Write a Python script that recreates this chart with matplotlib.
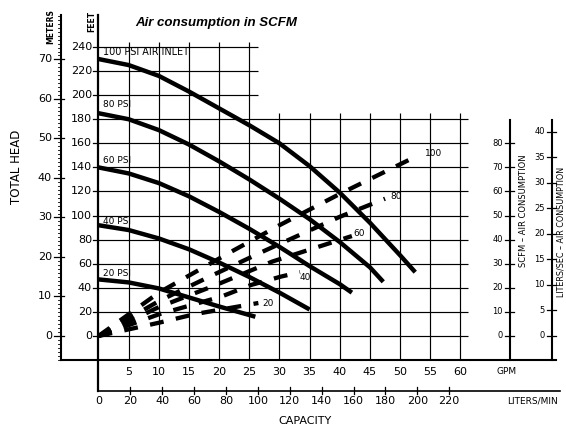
import matplotlib
matplotlib.use('Agg')
import matplotlib.pyplot as plt

plt.rcParams['font.family'] = ['DejaVu Sans']
plt.rcParams['lines.scale_dashes'] = False

# ---------------- data ----------------
gpm_ticks = [5, 10, 15, 20, 25, 30, 35, 40, 45, 50, 55, 60]
feet_ticks = [0, 20, 40, 60, 80, 100, 120, 140, 160, 180, 200, 220, 240]
meter_ticks = [0, 10, 20, 30, 40, 50, 60, 70]
lpm_ticks = [0, 20, 40, 60, 80, 100, 120, 140, 160, 180, 200, 220]
scfm_ticks = [0, 10, 20, 30, 40, 50, 60, 70, 80]
lps_ticks = [0, 5, 10, 15, 20, 25, 30, 35, 40]

psi_names = ["100 PSI AIR INLET", "80 PSI", "60 PSI", "40 PSI", "20 PSI"]
psi_label_ft = [236, 192, 146, 95, 52]

head_gpm_100 = [0, 5, 10, 15, 20, 25, 30, 35, 40, 45, 50, 52.5]
head_ft_100 = [230, 225, 216, 203, 189, 175, 160, 141, 119, 94, 67, 53]
head_gpm_80 = [0, 5, 10, 15, 20, 25, 30, 35, 40, 45, 47.2]
head_ft_80 = [185, 180, 171, 159, 145, 130, 114, 97, 78, 57, 45]
head_gpm_60 = [0, 5, 10, 15, 20, 25, 30, 35, 40, 42]
head_ft_60 = [140, 135, 127, 116, 103, 89, 74, 58, 43, 36]
head_gpm_40 = [0, 5, 10, 15, 20, 25, 30, 35]
head_ft_40 = [92, 88, 81, 72, 61, 49, 36, 22]
head_gpm_20 = [0, 5, 10, 15, 20, 26]
head_ft_20 = [47, 44.5, 39.5, 32, 24.5, 16]

air_names = ["100", "80", "60", "40", "20"]
air_gpm_100 = [0, 10, 22, 30, 40, 53]
air_scfm_100 = [0, 18, 35, 46, 59, 75]
air_gpm_80 = [0, 10, 18.7, 27.8, 40, 47.5]
air_scfm_80 = [0, 14.5, 25, 35.7, 49.5, 57]
air_gpm_60 = [0, 10, 19.5, 28.8, 42]
air_scfm_60 = [0, 12, 21.2, 30.9, 41.5]
air_gpm_40 = [0, 10, 20.4, 25.3, 30.3, 33.4]
air_scfm_40 = [0, 9, 16.4, 21.2, 24.7, 26.5]
air_gpm_20 = [0, 10, 16, 26.5]
air_scfm_20 = [0, 5.5, 9.1, 13.7]

# ---------------- unit conversions ----------------
FT_PER_M = 3.2808
FT_PER_SCFM = 2.0
SCFM_PER_LPS = 2.1189
LPM_PER_GPM = 3.7854

# ---------------- figure / coordinate frame ----------------
W, H = 566, 429
X0PX, XS = 98.5, 6.033      # px of 0 GPM, px per GPM
Y0PX, YS = 336.0, 1.2042    # px of 0 ft, px per ft

def px(x):
    return (x - X0PX) / XS

def py(y):
    return (Y0PX - y) / YS

fig = plt.figure(figsize=(W / 100, H / 100), dpi=100)
ax = fig.add_axes([0, 0, 1, 1])
ax.set_xlim(px(0), px(W))
ax.set_ylim(py(H), py(0))
ax.axis('off')

K = 'black'
GL = 0.85

# grid
for f in feet_ticks:
    xe = px(258) if f > 180 else px(468)
    ax.plot([0, xe], [f, f], color=K, lw=GL, solid_capstyle='butt')
for g in gpm_ticks:
    yt = py(42) if g <= 25 else py(113)
    ax.plot([g, g], [py(360), yt], color=K, lw=GL, solid_capstyle='butt')

# main axes lines
ax.plot([px(61), px(61)], [py(15), py(360)], color=K, lw=1.5)
ax.plot([0, 0], [py(15), py(391)], color=K, lw=1.6)
ax.plot([px(61), px(556)], [py(360), py(360)], color=K, lw=1.5)
ax.plot([0, px(560)], [py(391), py(391)], color=K, lw=1.2)
ax.plot([px(510), px(510)], [py(120), py(360)], color=K, lw=1.5)
ax.plot([px(552), px(552)], [py(120), py(360)], color=K, lw=1.5)

# meters axis ticks
for m in meter_ticks:
    yv = m * FT_PER_M
    ax.plot([px(54), px(64)], [yv, yv], color=K, lw=0.9)
    ax.text(px(52), yv, str(m), ha='right', va='center', fontsize=8)
for m in range(-6, 82):
    yv = m * FT_PER_M
    ax.plot([px(58.5), px(61)], [yv, yv], color=K, lw=0.6)

# feet axis ticks
for f in feet_ticks:
    ax.plot([px(93), 0], [f, f], color=K, lw=0.9)
    ax.text(px(92), f, str(f), ha='right', va='center', fontsize=8)

# GPM labels
for g in gpm_ticks:
    ax.text(g, py(372), str(g), ha='center', va='center', fontsize=8)
ax.text(px(507), py(371), "GPM", ha='center', va='center', fontsize=6.5)

# liters/min axis
for l in lpm_ticks:
    xv = l / LPM_PER_GPM
    if l > 0:
        ax.plot([xv, xv], [py(387), py(394)], color=K, lw=0.9)
    ax.text(xv, py(401), str(l), ha='center', va='center', fontsize=8)
ax.text(px(532), py(401), "LITERS/MIN", ha='center', va='center', fontsize=6.5)
ax.text(px(305), py(421), "CAPACITY", ha='center', va='center', fontsize=8)

# SCFM axis
for s in scfm_ticks:
    yv = s * FT_PER_SCFM
    ax.plot([px(505), px(514)], [yv, yv], color=K, lw=0.9)
    ax.text(px(503), yv, str(s), ha='right', va='center', fontsize=6)
ax.text(px(523), py(211), "SCFM – AIR CONSUMPTION", rotation=90,
        ha='center', va='center', fontsize=6)

# liters/sec axis
for s in lps_ticks:
    yv = s * SCFM_PER_LPS * FT_PER_SCFM
    ax.plot([px(547), px(556)], [yv, yv], color=K, lw=0.9)
    ax.text(px(545), yv, str(s), ha='right', va='center', fontsize=6)
ax.text(px(561), py(232), "LITERS/SEC – AIR CONSUMPTION", rotation=90,
        ha='center', va='center', fontsize=5.8)

# axis titles
ax.text(px(17), py(167), "TOTAL HEAD", rotation=90, ha='center', va='center', fontsize=8.5)
ax.text(px(51), py(27), "METERS", rotation=90, ha='center', va='center',
        fontsize=5.5, fontweight='bold')
ax.text(px(92), py(21), "FEET", rotation=90, ha='center', va='center',
        fontsize=5.5, fontweight='bold')
ax.text(px(135), py(23), "Air consumption in SCFM", ha='left', va='center',
        fontsize=9.5, fontweight='bold', fontstyle='italic', family=['Liberation Sans'])

# head curves
head = [(head_gpm_100, head_ft_100), (head_gpm_80, head_ft_80), (head_gpm_60, head_ft_60),
        (head_gpm_40, head_ft_40), (head_gpm_20, head_ft_20)]
for (gx, fy), name, lf in zip(head, psi_names, psi_label_ft):
    ax.plot(gx, fy, color=K, lw=3.2, solid_capstyle='butt', solid_joinstyle='round')
    fs = 6.9 if len(name) > 8 else 6.5
    ax.text(px(103), lf, name, ha='left', va='center', fontsize=fs)

# air consumption dashed lines
air = [(air_gpm_100, air_scfm_100), (air_gpm_80, air_scfm_80), (air_gpm_60, air_scfm_60),
       (air_gpm_40, air_scfm_40), (air_gpm_20, air_scfm_20)]
air_label_px = [(425, 153), (390, 197), (353, 234), (300, 277), (262, 304)]
for (gx, sy), name, (lx, ly) in zip(air, air_names, air_label_px):
    fy = [v * FT_PER_SCFM for v in sy]
    ax.plot(gx, fy, color=K, lw=3.1, dashes=(10, 9), dash_capstyle='butt')
    ax.text(px(lx), py(ly), name, ha='left', va='center', fontsize=6.5)

fig.savefig('out.png', dpi=100)
